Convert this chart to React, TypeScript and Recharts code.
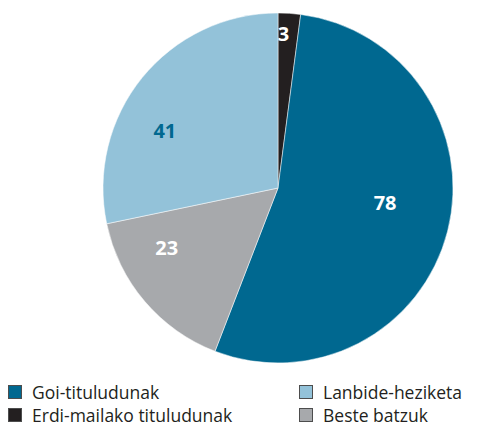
import { Cell, Pie, PieChart } from "recharts";

const NAMES = ["Erdi-mailako tituludunak", "Goi-tituludunak", "Beste batzuk", "Lanbide-heziketa"];
const VALUES = [3, 78, 23, 41];
const COLORS = ["#231f20", "#006890", "#a7a9ac", "#93c2d9"];
const LABEL_COLORS = ["#ffffff", "#ffffff", "#ffffff", "#006890"];

// legend order (two columns)
const LEGEND_ORDER = ["Goi-tituludunak", "Lanbide-heziketa", "Erdi-mailako tituludunak", "Beste batzuk"];

// polar label placement: angle (deg, counter-clockwise from east), radius
const LABEL_POLAR: Record<string, [number, number]> = {
  "Erdi-mailako tituludunak": [88, 155],
  "Goi-tituludunak": [-7.5, 108],
  "Beste batzuk": [-152, 126],
  "Lanbide-heziketa": [153, 127],
};

const data = NAMES.map((name, i) => ({ name, value: VALUES[i] }));

const FONT = "'Open Sans', 'Noto Sans', sans-serif";

const renderLabel = (props: any) => {
  const { cx, cy, index, name } = props;
  const [deg, r] = LABEL_POLAR[name];
  const rad = (deg * Math.PI) / 180;
  const x = cx + r * Math.cos(rad);
  const y = cy - r * Math.sin(rad);
  return (
    <text
      x={x}
      y={y}
      fill={LABEL_COLORS[index]}
      textAnchor="middle"
      dominantBaseline="central"
      fontFamily={FONT}
      fontWeight={700}
      fontSize={20}
    >
      {VALUES[index]}
    </text>
  );
};

export default function App() {
  return (
    <div style={{ width: 469, height: 418, fontFamily: FONT, position: "relative" }}>
      <PieChart width={469} height={362}>
        <Pie
          data={data}
          dataKey="value"
          nameKey="name"
          cx={265}
          cy={175}
          outerRadius={175}
          startAngle={90}
          endAngle={-270}
          stroke="#ffffff"
          strokeWidth={0.5}
          label={renderLabel}
          labelLine={false}
          isAnimationActive={false}
        >
          {data.map((d, i) => (
            <Cell key={d.name} fill={COLORS[i]} />
          ))}
        </Pie>
      </PieChart>
      <div
        style={{
          position: "absolute",
          left: 0,
          top: 373,
          width: 469,
          display: "grid",
          gridTemplateColumns: "291px 178px",
          rowGap: 1,
          fontSize: 17.5,
          lineHeight: "22px",
          color: "#231f20",
        }}
      >
        {LEGEND_ORDER.map((name) => {
          const i = NAMES.indexOf(name);
          return (
            <div key={name} style={{ display: "flex", alignItems: "center", height: 22, whiteSpace: "nowrap" }}>
              <span
                style={{
                  display: "inline-block",
                  width: 14,
                  height: 14,
                  boxSizing: "border-box",
                  background: COLORS[i],
                  border: "1px solid #4d4d4d",
                  marginRight: 10,
                  flexShrink: 0,
                }}
              />
              {name}
            </div>
          );
        })}
      </div>
    </div>
  );
}
